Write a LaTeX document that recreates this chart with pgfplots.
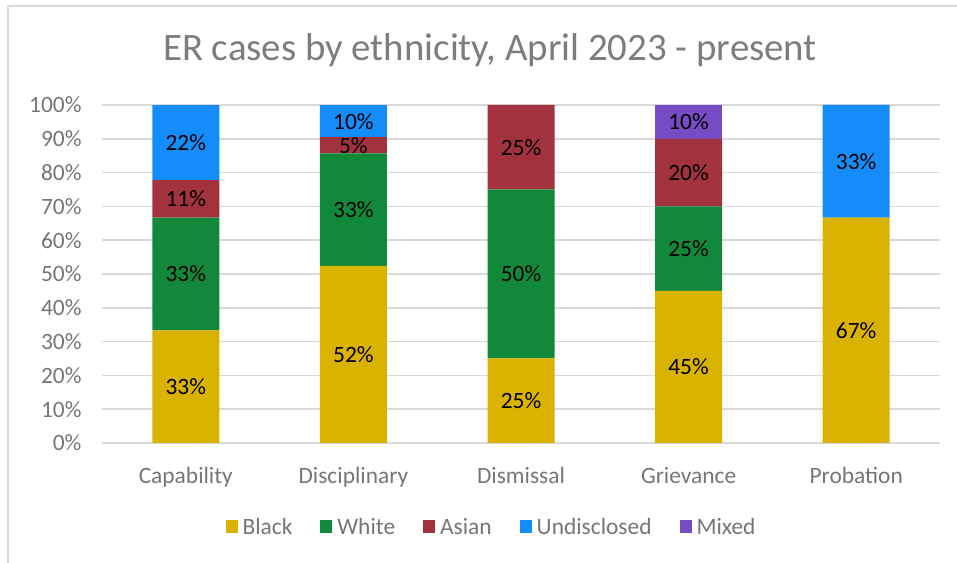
\documentclass[border=0pt]{standalone}
\usepackage{pgfplots}
\pgfplotsset{compat=1.18}
\usepackage{pgfplotstable}
\usepackage{fontspec}
\setmainfont{Carlito}
\definecolor{cBlack}{RGB}{218,178,0}
\definecolor{cWhite}{RGB}{18,137,58}
\definecolor{cAsian}{RGB}{162,50,62}
\definecolor{cUnd}{RGB}{20,140,250}
\definecolor{cMixed}{RGB}{118,76,196}
\definecolor{gridc}{RGB}{217,217,217}
\definecolor{textc}{RGB}{118,118,118}
\definecolor{titlec}{RGB}{125,125,125}

\pgfplotstableread{
x Black White Asian Undisclosed Mixed
0 33.33 33.33 11.11 22.22 0
1 52.38 33.33 4.76 9.52 0
2 25 50 25 0 0
3 45 25 20 0 10
4 66.67 0 0 33.33 0
}\data

\pgfplotsset{legsq/.style={legend image code/.code={\fill[##1] (0bp,-6.5bp) rectangle (12bp,6.5bp);}}}

\begin{document}
\begin{tikzpicture}
\path[use as bounding box] (0,0) rectangle (957bp,563bp);
\draw[gridc, line width=1.3bp] (8bp,0) -- (8bp,557bp) -- (957bp,557bp);
\node[text=titlec, font=\fontsize{39}{46}\selectfont] at (490bp,513bp) {ER cases by ethnicity, April 2023 - present};
\begin{axis}[
  at={(102bp,120bp)}, anchor=south west,
  scale only axis, width=838bp, height=338bp,
  ybar stacked, bar width=67bp,
  xmin=-0.5, xmax=4.5, ymin=0, ymax=100,
  xtick={0,1,2,3,4},
  xticklabels={Capability,Disciplinary,Dismissal,Grievance,Probation},
  ytick={0,10,...,100},
  yticklabels={0\%,10\%,20\%,30\%,40\%,50\%,60\%,70\%,80\%,90\%,100\%},
  ymajorgrids, grid style={gridc, line width=1.6bp},
  axis line style={draw=none},
  major tick length=0pt,
  tick label style={font=\fontsize{23.5}{27}\selectfont, text=textc},
  xticklabel style={yshift=-21bp},
  yticklabel style={xshift=-17bp},
  /pgf/number format/assume math mode=true,
  visualization depends on=rawy \as \rawy,
  nodes near coords={\ifdim\rawy pt>0.5pt \pgfmathprintnumber[fixed,precision=0]{\rawy}\%\fi},
  every node near coord/.append style={anchor=center,
     font=\fontsize{23.5}{27}\selectfont, text=black},
  legend columns=-1,
  legend style={at={(0.4666,-0.2485)}, anchor=center, draw=none,
     font=\fontsize{23.5}{27}\selectfont, text=textc,
     /tikz/every even column/.append style={column sep=23bp},
     nodes={inner xsep=5bp}},
]
\addplot[fill=cBlack, draw=none, legsq] table[x=x, y=Black]{\data};
\addplot[fill=cWhite, draw=none, legsq] table[x=x, y=White]{\data};
\addplot[fill=cAsian, draw=none, legsq] table[x=x, y=Asian]{\data};
\addplot[fill=cUnd, draw=none, legsq] table[x=x, y=Undisclosed]{\data};
\addplot[fill=cMixed, draw=none, legsq] table[x=x, y=Mixed]{\data};
\legend{Black,White,Asian,Undisclosed,Mixed}
\end{axis}
\end{tikzpicture}
\end{document}
